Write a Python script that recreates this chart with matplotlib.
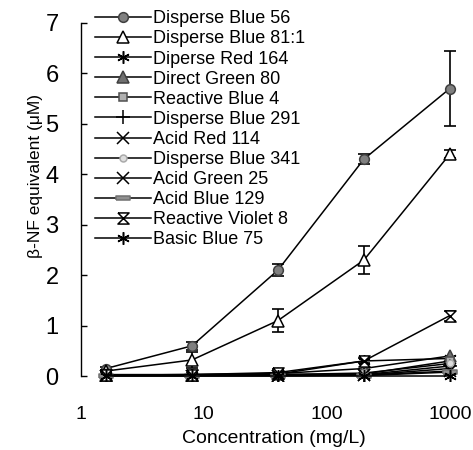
import numpy as np
import matplotlib
matplotlib.use("Agg")
import matplotlib.pyplot as plt

# concentration (mg/L) and beta-NF equivalent (uM)
conc = [1.6, 8, 40, 200, 1000]

db56 = [0.15, 0.60, 2.10, 4.30, 5.70]
db56_err = [0.03, 0.08, 0.12, 0.10, 0.75]
db81 = [0.10, 0.32, 1.10, 2.30, 4.40]
db81_err = [0.02, 0.15, 0.23, 0.27, 0.08]
dr164 = [0.02, 0.03, 0.04, 0.30, 0.35]
dg80 = [0.03, 0.03, 0.05, 0.15, 0.40]
rb4 = [0.02, 0.02, 0.03, 0.04, 0.30]
db291 = [0.01, 0.01, 0.02, 0.03, 0.20]
ar114 = [0.01, 0.01, 0.01, 0.02, 0.15]
db341 = [0.02, 0.02, 0.03, 0.06, 0.25]
ag25 = [0.01, 0.01, 0.01, 0.02, 0.10]
ab129 = [0.01, 0.01, 0.01, 0.01, 0.08]
rv8 = [0.02, 0.03, 0.07, 0.30, 1.20]
rv8_err = [0.01, 0.03, 0.08, 0.05, 0.10]
bb75 = [0.0, 0.0, 0.0, 0.0, 0.0]

names = ["Disperse Blue 56", "Disperse Blue 81:1", "Diperse Red 164",
         "Direct Green 80", "Reactive Blue 4", "Disperse Blue 291",
         "Acid Red 114", "Disperse Blue 341", "Acid Green 25",
         "Acid Blue 129", "Reactive Violet 8", "Basic Blue 75"]

plt.rcParams['font.family'] = ['Liberation Sans', 'DejaVu Sans']

hourglass = [(-1, 1), (1, 1), (-1, -1), (1, -1), (-1, 1)]
bar = [(-1, -0.35), (1, -0.35), (1, 0.35), (-1, 0.35), (-1, -0.35)]

series = [
    (db56, db56_err, dict(marker='o', ms=7, mfc='#808080', mec='#404040')),
    (db81, db81_err, dict(marker='^', ms=8, mfc='white', mec='black')),
    (dr164, None, dict(marker=(6, 2, 0), ms=9, mec='black')),
    (dg80, None, dict(marker='^', ms=8, mfc='#707070', mec='#404040')),
    (rb4, None, dict(marker='s', ms=6, mfc='#b0b0b0', mec='#505050')),
    (db291, None, dict(marker='+', ms=10, mec='black')),
    (ar114, None, dict(marker='x', ms=8, mec='black')),
    (db341, None, dict(marker='o', ms=5, mfc='#dddddd', mec='#aaaaaa')),
    (ag25, None, dict(marker='x', ms=8, mec='black')),
    (ab129, None, dict(marker=bar, ms=10, mfc='#909090', mec='#707070')),
    (rv8, rv8_err, dict(marker=hourglass, ms=8, mfc='white', mec='black')),
    (bb75, None, dict(marker=(6, 2, 0), ms=9, mec='black')),
]

fig = plt.figure(figsize=(4.73, 4.5), dpi=100)
ax = fig.add_axes([0.171, 0.153, 0.818, 0.796])

handles = []
for (vals, err, style), name in zip(series, names):
    if err is not None:
        ax.errorbar(conc, vals, yerr=err, fmt='none', ecolor='black',
                    elinewidth=1.2, capsize=4.5, capthick=1.2, zorder=2)
    h, = ax.plot(conc, vals, color='black', lw=1.1, mew=1.1, label=name,
                 zorder=3, **style)
    handles.append(h)

ax.set_xscale('log')
ax.set_xlim(1, 1400)
ax.set_ylim(-0.1, 7)
ax.set_xticks([1, 10, 100, 1000])
ax.set_xticklabels(['1', '10', '100', '1000'])
ax.xaxis.set_minor_locator(matplotlib.ticker.NullLocator())
ax.set_yticks(range(8))

for s in ['top', 'right', 'bottom']:
    ax.spines[s].set_visible(False)
ax.spines['left'].set_bounds(0, 7)
ax.spines['left'].set_linewidth(1.0)

ax.tick_params(axis='x', length=0, pad=18, labelsize=14)
ax.tick_params(axis='y', direction='in', length=4, width=1, pad=16, labelsize=17)

ax.set_xlabel('Concentration (mg/L)', fontsize=14, labelpad=5)
ax.set_ylabel('β-NF equivalent (μM)', fontsize=12.5)
ax.yaxis.set_label_coords(-0.098, 0.573)

ax.legend(handles=handles, loc='upper left', bbox_to_anchor=(0.036, 1.035),
          frameon=False, borderpad=0, borderaxespad=0, labelspacing=0.17,
          handlelength=3.1, handletextpad=0.1,
          prop={'family': 'Liberation Sans', 'size': 13})

fig.savefig('out.png', dpi=100)
